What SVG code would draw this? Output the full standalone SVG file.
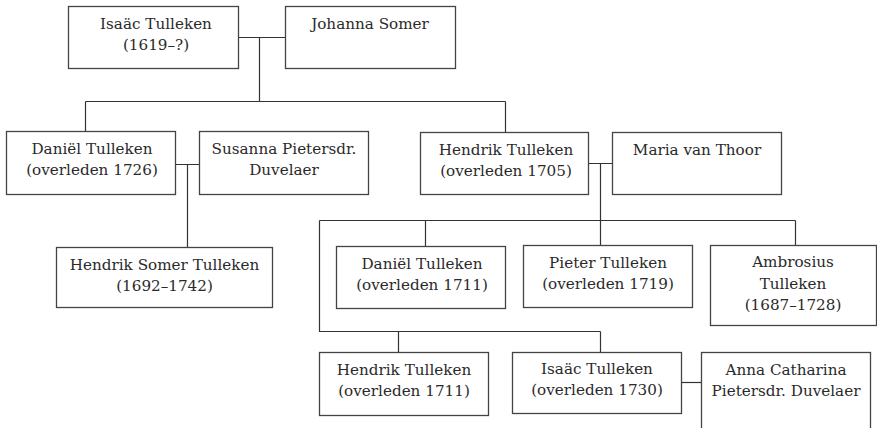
<svg xmlns="http://www.w3.org/2000/svg" width="877" height="428" viewBox="0 0 877 428">
<style>
.box{fill:#fff;stroke:#444;stroke-width:1.3}
.t{font-family:"DejaVu Serif","Liberation Serif",serif;font-size:15.2px;fill:#2a2a2a;text-anchor:middle}
.c{fill:none;stroke:#333;stroke-width:1.2}
</style>
<rect width="877" height="428" fill="#fff"/>
<g id="connectors">
<path class="c" d="M238 37.5H285M259.5 37.5V101.5M85.5 101.5H505.5M85.5 101.5V131M505.5 101.5V132"/>
<path class="c" d="M176 164.5H199M187.5 164.5V247"/>
<path class="c" d="M589 163.5H612M600.5 163.5V245M319.5 220.5H795.5M425.5 220.5V246M795.5 220.5V245M319.5 220.5V331.5H600.5M398.5 331.5V352M600.5 331.5V352"/>
<path class="c" d="M681 382.5H701"/>
</g>
<g id="n1"><rect class="box" x="68.5" y="6.5" width="170" height="62"/><text class="t" x="156" y="28.5">Isaäc Tulleken</text><text class="t" x="156" y="49.5">(1619–?)</text></g>
<g id="n2"><rect class="box" x="285.5" y="6.5" width="170" height="62"/><text class="t" x="370" y="28.5">Johanna Somer</text></g>
<g id="n3"><rect class="box" x="6.5" y="131.5" width="169" height="63"/><text class="t" x="92" y="154">Daniël Tulleken</text><text class="t" x="92" y="175">(overleden 1726)</text></g>
<g id="n4"><rect class="box" x="199.5" y="131.5" width="169" height="63"/><text class="t" x="284" y="154">Susanna Pietersdr.</text><text class="t" x="284" y="175">Duvelaer</text></g>
<g id="n5"><rect class="box" x="420.5" y="132.5" width="168" height="62"/><text class="t" x="506" y="154.5">Hendrik Tulleken</text><text class="t" x="506" y="175.5">(overleden 1705)</text></g>
<g id="n6"><rect class="box" x="612.5" y="132.5" width="169" height="62"/><text class="t" x="697" y="154.5">Maria van Thoor</text></g>
<g id="n7"><rect class="box" x="56.5" y="247.5" width="216" height="60"/><text class="t" x="164.5" y="270">Hendrik Somer Tulleken</text><text class="t" x="164.5" y="291">(1692–1742)</text></g>
<g id="n8"><rect class="box" x="336.5" y="246.5" width="169" height="62"/><text class="t" x="422" y="268.5">Daniël Tulleken</text><text class="t" x="422" y="289.5">(overleden 1711)</text></g>
<g id="n9"><rect class="box" x="523.5" y="245.5" width="169" height="62"/><text class="t" x="608" y="267.5">Pieter Tulleken</text><text class="t" x="608" y="288.5">(overleden 1719)</text></g>
<g id="n10"><rect class="box" x="710.5" y="245.5" width="166" height="80"/><text class="t" x="793" y="267">Ambrosius</text><text class="t" x="793" y="289">Tulleken</text><text class="t" x="793" y="310">(1687–1728)</text></g>
<g id="n11"><rect class="box" x="319.5" y="352.5" width="169" height="63"/><text class="t" x="404" y="374.5">Hendrik Tulleken</text><text class="t" x="404" y="395.5">(overleden 1711)</text></g>
<g id="n12"><rect class="box" x="512.5" y="352.5" width="169" height="61"/><text class="t" x="597" y="374">Isaäc Tulleken</text><text class="t" x="597" y="395">(overleden 1730)</text></g>
<g id="n13"><rect class="box" x="701.5" y="352.5" width="169" height="82"/><text class="t" x="786" y="374.5">Anna Catharina</text><text class="t" x="786" y="395.5">Pietersdr. Duvelaer</text></g>
</svg>
